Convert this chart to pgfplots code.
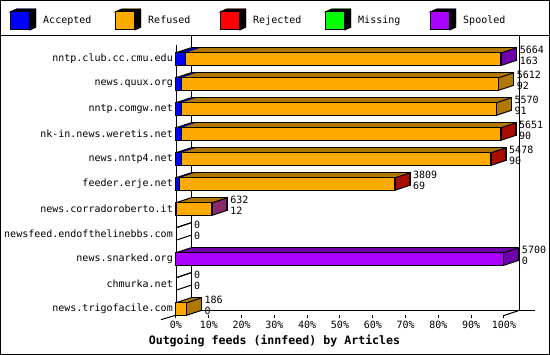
\documentclass[border=0pt]{standalone}
\usepackage{pgfplots}
\pgfplotsset{compat=1.18}
\usepackage{pgfplotstable}
\usepackage{fontspec}
\setmainfont{DejaVu Sans Mono}
\definecolor{cAcc}{HTML}{0000FF}
\definecolor{cAccD}{HTML}{0000A8}
\definecolor{cRef}{HTML}{FFAA00}
\definecolor{cRefD}{HTML}{B07800}
\definecolor{cRej}{HTML}{FF0000}
\definecolor{cRejD}{HTML}{AA0000}
\definecolor{cMis}{HTML}{00FF00}
\definecolor{cMisD}{HTML}{00A000}
\definecolor{cSpo}{HTML}{AA00FF}
\definecolor{cSpoD}{HTML}{7000AA}

\pgfplotstableread{
y acc ref rej mis spo total
10 163 5483 0 0 18 5664
9 92 5520 0 0 0 5612
8 91 5479 0 0 0 5570
7 90 5543 18 0 0 5651
6 90 5370 18 0 0 5478
5 69 3722 18 0 0 3809
4 12 602 0 0 18 632
3 0 0 0 0 0 0
2 0 0 0 0 5700 5700
1 0 0 0 0 0 0
0 0 186 0 0 0 186
}\data

\pgfplotsset{
  base/.style={anchor=south west, width=328pt, height=270.5pt, scale only axis,
    xmin=0, xmax=5700, ymin=-0.26, ymax=10.56, clip=false},
  backbars/.style={base, hide axis, xbar stacked, bar width=12.5pt},
}

\newcommand{\cube}[2]{%
  \fill[#2] (0pt,9pt) -- (6pt,11.7pt) -- (25pt,11.7pt) -- (25pt,-6.3pt) -- (19pt,-9pt) -- (19pt,9pt) -- cycle;
  \draw[black,line width=1pt] (0pt,9pt) -- (6pt,11.7pt) -- (25pt,11.7pt) -- (25pt,-6.3pt) -- (19pt,-9pt);
  \draw[black,line width=1pt] (19pt,9pt) -- (25pt,11.7pt);
  \draw[black,line width=1pt,fill=#1] (0pt,-9pt) rectangle (19pt,9pt);
}

\begin{document}
\begin{tikzpicture}
\useasboundingbox (0pt,0pt) rectangle (550pt,355pt);
\draw[line width=1pt] (0.5pt,0.5pt) rectangle (549.5pt,354.5pt);
\draw[line width=1pt] (0pt,319.5pt) -- (550pt,319.5pt);
% 3D frame behind the bars
\draw[line width=1pt] (191.5pt,319pt) -- (191.5pt,44.5pt) -- (535pt,44.5pt);
\draw[line width=1pt] (519pt,319pt) -- (519pt,44.5pt);
\draw[line width=1pt] (161pt,35.3pt) -- (191.5pt,44.5pt);
\draw[line width=1pt] (504pt,39.5pt) -- (519pt,44.5pt);
\draw[line width=1pt] (176pt,39.5pt) -- (176pt,310pt);

% depth of the bars: farthest copy with outline
\begin{axis}[backbars, at={(191pt,44.5pt)}]
\addplot[fill=cAccD, draw=black, line width=1pt] table[x=acc,y=y]{\data};
\addplot[fill=cRefD, draw=black, line width=1pt] table[x=ref,y=y]{\data};
\addplot[fill=cRejD, draw=black, line width=1pt] table[x=rej,y=y]{\data};
\addplot[fill=cMisD, draw=black, line width=1pt] table[x=mis,y=y]{\data};
\addplot[fill=cSpoD, draw=black, line width=1pt] table[x=spo,y=y]{\data};
\end{axis}
\foreach \k in {14,13,...,1}{
\pgfmathsetmacro\dy{\k/3}
\begin{axis}[backbars, at={(176pt+\k pt,39.5pt+\dy pt)}]
\addplot[fill=cAccD, draw=none] table[x=acc,y=y]{\data};
\addplot[fill=cRefD, draw=none] table[x=ref,y=y]{\data};
\addplot[fill=cRejD, draw=none] table[x=rej,y=y]{\data};
\addplot[fill=cMisD, draw=none] table[x=mis,y=y]{\data};
\addplot[fill=cSpoD, draw=none] table[x=spo,y=y]{\data};
\end{axis}
}

\begin{axis}[
  base, at={(176pt,39.5pt)},
  xbar stacked, bar width=12.5pt,
  axis line style={draw=none},
  xtick={0,570,1140,1710,2280,2850,3420,3990,4560,5130,5700},
  xticklabels={0\%,10\%,20\%,30\%,40\%,50\%,60\%,70\%,80\%,90\%,100\%},
  ytick={0,1,2,3,4,5,6,7,8,9,10},
  yticklabels={news.trigofacile.com,chmurka.net,news.snarked.org,newsfeed.endofthelinebbs.com,news.corradoroberto.it,feeder.erje.net,news.nntp4.net,nk-in.news.weretis.net,nntp.comgw.net,news.quux.org,nntp.club.cc.cmu.edu},
  tick align=outside, xtick pos=lower, ytick pos=left,
  major tick length=3pt,
  ytick style={draw=none},
  xtick style={black, line width=1pt},
  tick label style={font=\fontsize{10}{12}\selectfont},
  yticklabel style={inner sep=0pt},
  xticklabel style={inner sep=0pt, yshift=-2pt},
  xlabel={Outgoing feeds (innfeed) by Articles},
  xlabel style={at={(axis description cs:0.3003,-0.0943)}, anchor=center, inner sep=0pt, font=\bfseries\fontsize{11.6}{13}\selectfont},
  legend columns=5,
  legend style={draw=none, fill=none, at={(axis description cs:-0.5152,1.0943)}, anchor=west, column sep=5pt, font=\fontsize{10}{12}\selectfont},
]
\addplot[fill=cAcc, draw=black, line width=1pt, legend image code/.code={\cube{cAcc}{cAccD}}] table[x=acc,y=y]{\data};
\addlegendentry{\makebox[65pt][l]{Accepted}}
\addplot[fill=cRef, draw=black, line width=1pt, legend image code/.code={\cube{cRef}{cRefD}}] table[x=ref,y=y]{\data};
\addlegendentry{\makebox[65pt][l]{Refused}}
\addplot[fill=cRej, draw=black, line width=1pt, legend image code/.code={\cube{cRej}{cRejD}}] table[x=rej,y=y]{\data};
\addlegendentry{\makebox[65pt][l]{Rejected}}
\addplot[fill=cMis, draw=black, line width=1pt, legend image code/.code={\cube{cMis}{cMisD}}] table[x=mis,y=y]{\data};
\addlegendentry{\makebox[65pt][l]{Missing}}
\addplot[fill=cSpo, draw=black, line width=1pt, legend image code/.code={\cube{cSpo}{cSpoD}}] table[x=spo,y=y]{\data};
\addlegendentry{\makebox[65pt][l]{Spooled}}
\end{axis}

\begin{axis}[base, at={(176pt,39.5pt)}, hide axis]
% receding edges of the boxes (depth 15pt x 5pt)
\addplot[draw=black, line width=1pt, quiver={u=260.67, v=0.2}] table[x expr=0, y expr=\thisrow{y}+0.25]{\data};
\addplot[draw=black, line width=1pt, quiver={u=260.67, v=0.2}] table[x=total, y expr=\thisrow{y}+0.25]{\data};
\addplot[draw=black, line width=1pt, quiver={u=260.67, v=0.2}] table[x=total, y expr=\thisrow{y}-0.25]{\data};
\addplot[draw=none, mark=none, point meta=explicit symbolic,
  nodes near coords={\makebox[0pt][l]{\pgfplotspointmeta}},
  every node near coord/.append style={font=\fontsize{10}{12}\selectfont, inner sep=0pt, xshift=18pt, yshift=5.65pt}]
  table[x=total,y=y,meta=total]{\data};
\addplot[draw=none, mark=none, point meta=explicit symbolic,
  nodes near coords={\makebox[0pt][l]{\pgfplotspointmeta}},
  every node near coord/.append style={font=\fontsize{10}{12}\selectfont, inner sep=0pt, xshift=18pt, yshift=-5.35pt}]
  table[x=total,y=y,meta=acc]{\data};
\end{axis}
\end{tikzpicture}
\end{document}
